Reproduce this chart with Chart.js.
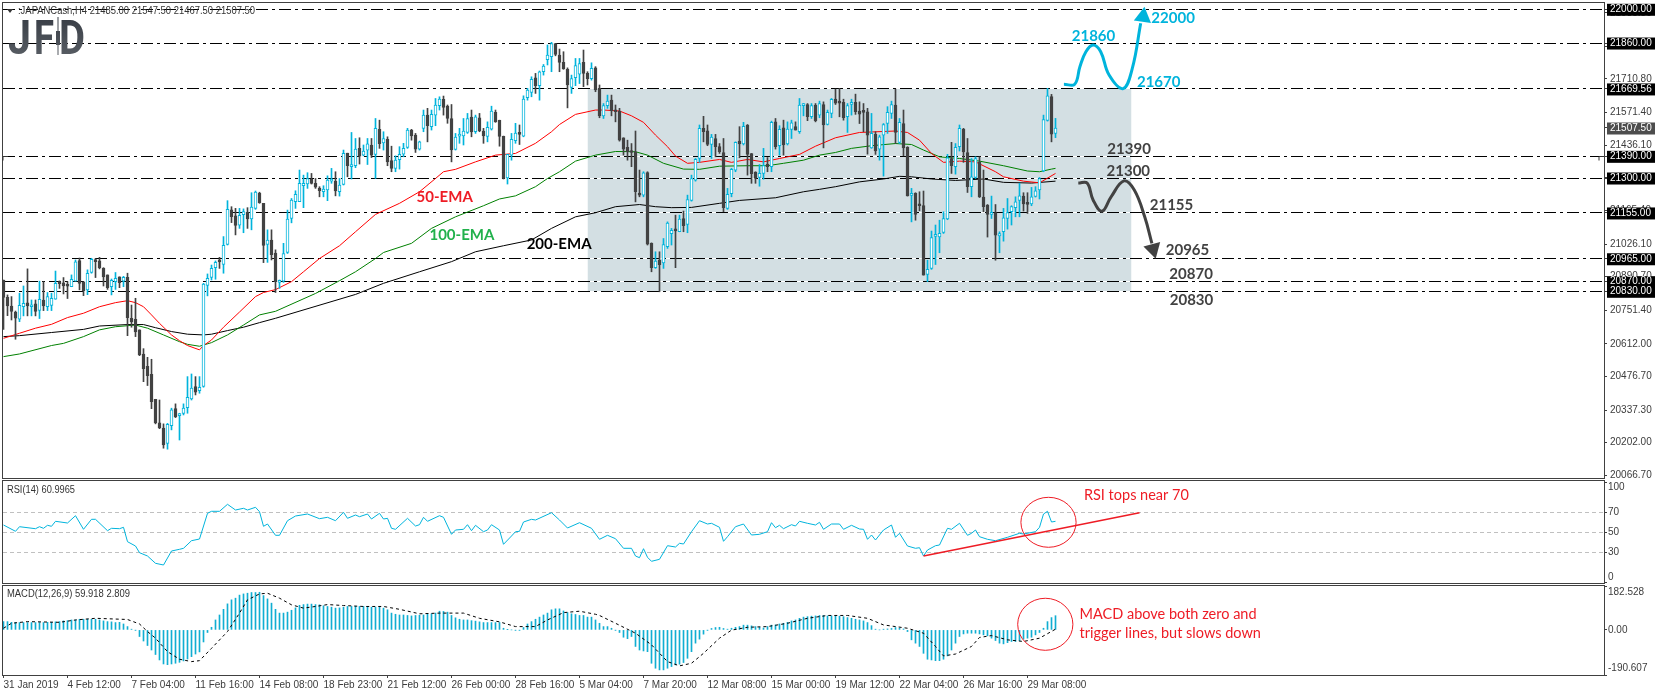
<!doctype html>
<html><head><meta charset="utf-8">
<style>html,body{margin:0;background:#fff;width:1655px;height:696px;overflow:hidden}canvas{position:absolute;left:0;display:block}</style>
<script src="https://cdn.jsdelivr.net/npm/chart.js@4"></script>
</head><body>
<canvas id="pMain" width="1655" height="480" style="top:0"></canvas>
<canvas id="pRsi" width="1655" height="104" style="top:480px"></canvas>
<canvas id="pMacd" width="1655" height="112" style="top:584px"></canvas>
<script>
const opens=[20877,20805,20769,20744,20714,20766,20782,20766,20778,20751,
20794,20766,20771,20797,20865,20865,20852,20849,20872,20957,
20869,20836,20908,20960,20956,20925,20898,20849,20870,20890,
20872,20888,20718,20714,20670,20570,20519,20486,20382,20284,
20262,20199,20273,20343,20314,20323,20347,20383,20435,20418,
20435,20854,20888,20928,20953,20941,21024,21168,21143,21104,
21148,21158,21130,21174,21237,21195,21024,21043,20989,20867,
20872,20991,21132,21202,21202,21268,21275,21296,21278,21258,
21243,21251,21287,21287,21243,21273,21403,21347,21351,21423,
21395,21415,21437,21398,21502,21446,21461,21372,21340,21376,
21399,21427,21499,21478,21420,21506,21561,21513,21561,21600,
21626,21598,21547,21419,21474,21475,21489,21553,21492,21550,
21495,21473,21503,21572,21539,21473,21300,21395,21455,21486,
21474,21633,21655,21716,21683,21741,21791,21803,21858,21810,
21780,21751,21676,21716,21731,21780,21734,21712,21757,21672,
21558,21600,21623,21579,21578,21467,21427,21412,21409,21237,
21229,21323,21029,20928,20958,20948,21015,21069,21083,21077,
21132,21107,21207,21291,21381,21506,21496,21439,21464,21430,
21406,21174,21235,21333,21453,21441,21520,21401,21325,21302,
21319,21358,21347,21533,21434,21508,21441,21502,21513,21492,
21600,21605,21554,21603,21561,21605,21522,21568,21627,21614,
21614,21554,21605,21614,21578,21573,21575,21425,21481,21420,
21478,21526,21568,21603,21448,21526,21427,21228,21236,21186,
21186,20900,20925,21058,21056,21074,21130,21381,21347,21430,
21503,21406,21264,21302,21365,21221,21188,21149,21157,21060,
21077,21132,21160,21177,21207,21225,21199,21193,21224,21251,
21329,21539,21638,21485];
const closes=[20805,20769,20746,20718,20772,20780,20769,20772,20746,20797,
20769,20808,20801,20863,20862,20852,20851,20880,20952,20863,
20833,20905,20963,20953,20927,20890,20845,20876,20884,20866,
20888,20721,20703,20661,20566,20509,20480,20372,20284,20263,
20193,20278,20338,20309,20321,20345,20390,20428,20412,20432,
20860,20884,20925,20950,20952,21021,21170,21140,21103,21145,
21161,21130,21179,21242,21198,21020,21043,20982,20870,20872,
20987,21130,21208,21232,21278,21278,21298,21278,21262,21247,
21254,21291,21291,21246,21271,21402,21351,21349,21420,21391,
21412,21442,21395,21506,21442,21464,21367,21340,21374,21398,
21423,21499,21475,21420,21450,21561,21517,21564,21603,21627,
21593,21547,21417,21470,21478,21495,21547,21491,21554,21495,
21475,21510,21578,21533,21473,21298,21398,21461,21486,21481,
21627,21665,21709,21683,21741,21764,21810,21858,21813,21780,
21753,21686,21713,21766,21775,21734,21712,21755,21665,21558,
21600,21619,21579,21575,21457,21420,21409,21406,21243,21229,
21322,21026,20928,20955,20940,21024,21113,21083,21081,21130,
21102,21211,21298,21377,21506,21492,21439,21470,21430,21409,
21177,21232,21336,21448,21441,21514,21398,21318,21298,21319,
21352,21347,21531,21430,21502,21437,21503,21529,21499,21603,
21603,21554,21600,21538,21609,21520,21572,21626,21611,21611,
21550,21600,21614,21575,21565,21572,21478,21485,21412,21471,
21522,21572,21605,21489,21531,21425,21226,21236,21149,21185,
20897,20921,21053,21066,21070,21132,21384,21351,21427,21506,
21408,21264,21305,21381,21222,21181,21149,21154,21063,21069,
21135,21157,21181,21201,21226,21193,21190,21222,21247,21298,
21542,21641,21482,21507.5];
const highs=[20877,20815,20808,20748,20822,20852,20923,20794,20794,20872,
20870,20825,20822,20914,20873,20887,20870,20898,20960,20968,
20869,20919,20967,20966,20971,20928,20898,20881,20908,20890,
20892,20905,20773,20801,20670,20592,20556,20548,20382,20379,
20280,20282,20345,20363,20324,20363,20476,20487,20476,20476,
20863,20902,20939,20956,20971,21057,21206,21181,21174,21174,
21172,21177,21239,21246,21241,21195,21085,21085,21002,20877,
21029,21167,21215,21247,21333,21312,21322,21319,21298,21264,
21268,21309,21340,21326,21298,21416,21403,21489,21464,21467,
21437,21464,21464,21547,21540,21492,21471,21432,21392,21430,
21444,21506,21502,21485,21453,21582,21589,21582,21630,21637,
21640,21603,21605,21485,21506,21547,21568,21582,21561,21568,
21506,21533,21598,21582,21540,21474,21398,21485,21527,21520,
21641,21672,21720,21734,21744,21771,21852,21863,21858,21835,
21824,21757,21727,21796,21796,21831,21741,21778,21762,21686,
21609,21644,21644,21603,21589,21467,21457,21443,21495,21333,
21326,21326,21031,20994,20994,21049,21118,21091,21146,21146,
21163,21229,21312,21381,21520,21556,21520,21481,21481,21443,
21464,21257,21340,21450,21513,21531,21522,21402,21326,21356,
21423,21385,21536,21547,21517,21540,21533,21540,21533,21630,
21609,21609,21609,21609,21619,21616,21582,21630,21669,21672,
21627,21609,21627,21648,21616,21609,21589,21568,21492,21478,
21526,21596,21619,21669,21547,21582,21430,21257,21239,21243,
21246,20959,21080,21105,21125,21160,21398,21448,21443,21520,
21506,21464,21381,21388,21388,21333,21190,21225,21190,21077,
21174,21215,21185,21222,21278,21239,21239,21261,21264,21302,
21561,21672,21647,21547.5];
const lows=[20672,20729,20711,20631,20704,20728,20728,20728,20728,20717,
20750,20750,20750,20797,20842,20819,20800,20849,20872,20836,
20812,20816,20905,20887,20923,20852,20838,20815,20838,20845,
20849,20646,20681,20642,20563,20455,20439,20343,20280,20260,
20179,20175,20255,20306,20213,20317,20324,20379,20400,20407,
20432,20811,20877,20880,20925,20905,21022,21115,21064,21091,
21073,21091,21085,21170,21195,20949,20950,20960,20825,20842,
20867,20987,21114,21174,21202,21177,21257,21275,21257,21222,
21222,21206,21278,21226,21225,21271,21305,21296,21343,21358,
21392,21356,21385,21298,21423,21416,21351,21326,21326,21337,
21388,21423,21457,21406,21416,21492,21450,21499,21517,21582,
21561,21527,21367,21416,21444,21437,21485,21471,21485,21492,
21444,21450,21499,21531,21432,21296,21275,21374,21444,21439,
21471,21623,21637,21651,21623,21727,21769,21741,21807,21741,
21751,21591,21651,21683,21692,21679,21686,21706,21658,21550,
21547,21589,21558,21533,21453,21395,21374,21347,21201,21222,
21222,21022,20911,20925,20828,20925,21008,21022,20928,21077,
21077,21073,21204,21287,21365,21450,21434,21381,21388,21402,
21160,21170,21222,21326,21384,21437,21312,21278,21278,21266,
21295,21326,21326,21420,21395,21395,21437,21464,21499,21485,
21558,21538,21547,21533,21550,21425,21520,21550,21605,21554,
21540,21489,21561,21564,21526,21492,21399,21423,21398,21374,
21308,21485,21547,21443,21443,21392,21225,21118,21125,21164,
20897,20870,20921,20941,20990,21070,21127,21319,21316,21412,
21365,21240,21222,21298,21219,21160,21055,21132,20959,20990,
21038,21088,21105,21139,21139,21163,21153,21185,21221,21213,
21326,21536,21450,21467.5];

const ema50Bars=[0,4,8,12,16,20,24,28,31,33,35,37,39,42,44,46,49,50,52,55,59,63,65,68,72,75,79,84,88,93,99,104,108,110,113,118,123,128,133,137,139,143,148,150,154,157,160,163,166,168,171,174,179,182,186,190,194,199,203,208,214,223,226,229,232,235,239,243,248,250,255,259,263];
const ema50Vals=[20635,20656,20677,20693,20721,20739,20766,20783,20791,20783,20766,20732,20697,20649,20625,20605,20587,20605,20628,20681,20744,20808,20825,20837,20870,20911,20966,21019,21077,21149,21195,21243,21298,21326,21336,21367,21395,21402,21444,21492,21522,21564,21582,21582,21578,21558,21531,21478,21430,21391,21361,21365,21377,21365,21377,21367,21381,21398,21432,21467,21489,21495,21489,21457,21402,21365,21370,21367,21326,21305,21287,21280,21319];
const ema100Bars=[0,4,12,15,20,24,28,33,36,40,44,46,49,52,56,60,64,68,78,84,88,93,95,102,107,113,120,124,128,133,136,139,143,148,153,158,161,165,170,174,179,186,191,195,200,204,208,212,217,223,227,230,234,239,244,250,256,259,262,263];
const ema100Vals=[20559,20570,20605,20614,20642,20670,20683,20690,20677,20649,20621,20610,20602,20617,20649,20690,20732,20747,20821,20874,20911,20966,20991,21029,21091,21139,21185,21213,21226,21264,21298,21326,21370,21395,21410,21409,21395,21361,21337,21336,21349,21351,21351,21361,21374,21395,21406,21423,21434,21443,21439,21416,21388,21381,21370,21351,21329,21326,21337,21340];
const ema200Bars=[0,4,12,20,24,31,35,38,42,46,50,52,56,60,64,68,88,95,104,112,118,125,132,137,143,148,153,159,163,167,172,179,184,193,200,204,208,214,220,224,227,232,238,245,250,257,263];
const ema200Vals=[20642,20646,20659,20672,20686,20692,20692,20679,20663,20652,20649,20652,20667,20681,20700,20718,20817,20863,20911,20953,20994,21019,21043,21091,21139,21156,21181,21190,21181,21177,21178,21195,21207,21218,21243,21253,21264,21284,21296,21307,21305,21296,21290,21296,21282,21279,21287];

const rsiBars=[0,3,4,8,9,10,11,12,13,16,18,20,22,23,26,27,29,30,31,33,34,36,38,40,42,44,45,47,49,51,52,54,56,58,60,61,63,64,65,66,68,69,71,73,76,79,81,83,85,86,88,89,91,92,94,95,96,97,98,101,103,104,105,106,109,110,112,113,115,116,117,118,120,121,122,124,125,127,128,129,130,132,133,137,139,141,144,147,149,151,153,155,157,158,159,160,161,162,164,166,168,169,170,172,174,176,177,179,180,181,183,185,187,189,191,192,193,194,195,197,198,199,201,203,204,205,207,209,210,212,214,215,216,217,218,220,222,223,224,226,228,229,230,231,233,234,236,237,239,241,242,243,244,246,248,251,254,255,258,259,260,261,262,263];
const rsiVals=[57.3,51,55.6,53.6,55.6,54,57,56,61,59.3,66.6,53,63,63,51.6,54,53.6,55,40.6,36.3,29.6,26.3,19,17.3,31.3,33,34,41.6,43.3,69,71,71,78,72.3,74,72.3,75,70.6,56,58.3,47,47,61.6,66.3,68.3,63.6,65,61.6,70,64,67.3,65.6,68.3,63.3,69,63.3,64,54,53,64,56.3,57.6,65,61,66.6,65,48,52.3,53,57.6,51.6,57,50.6,52.3,57.6,52.3,38,46.3,50.6,51,60.3,63,62.3,69.6,62.3,54.3,59.6,54,43,47,43.6,34,34,26.3,24.6,33.6,25,21,23,36.6,35.3,39,38.3,50.6,61.6,58.3,59,55,41,45.6,55.6,58.3,47.3,48,50.6,59.6,54.6,57,53.6,57.6,56.3,61,59,57.3,60,53,58.3,58.3,53,57,53.3,53,43,47.3,42.3,52.3,57.3,45,49,36.3,34,34.6,26.3,32.3,36.6,37.3,54,53,59,47,49,52.3,45.6,43,41.6,45,49,48.3,50.6,55,68.3,71,60.3,61];

const macdHist=[35,35,32,31,31,31,31,31,31,31,
31,32,32,34,35,38,39,42,42,45,
45,45,45,45,42,38,35,34,31,32,
25,14,3,-1,-28,-47,-66,-85,-104,-127,
-144,-147,-144,-141,-137,-131,-123,-113,-102,-93,
-51,-11,11,42,63,87,110,127,134,147,
152,155,158,158,159,145,131,113,87,71,
71,75,83,93,104,107,109,109,107,106,
102,99,96,92,93,96,99,99,100,99,
99,99,96,96,96,92,85,71,66,63,
63,61,59,61,62,63,66,68,71,79,
78,75,61,51,45,42,42,39,37,34,
31,31,31,31,31,7,1,0,-1,-1,
10,25,35,45,54,63,71,85,89,89,
80,73,68,65,61,61,54,54,42,28,
14,14,7,-1,-11,-31,-37,-28,-70,-85,
-89,-92,-141,-162,-169,-169,-162,-155,-148,-145,
-138,-120,-92,-56,-39,-18,-1,6,10,11,
6,3,7,11,14,20,20,17,14,11,
8,14,20,21,25,28,32,38,42,49,
54,56,58,59,61,61,59,59,58,58,
56,52,49,45,42,38,31,18,3,0,
3,4,6,10,7,4,-7,-42,-56,-70,
-99,-124,-127,-130,-130,-124,-110,-85,-56,-28,
-17,-14,-14,-14,-17,-21,-25,-35,-45,-56,
-59,-54,-49,-49,-45,-39,-35,-31,-21,-11,
7,35,52,60];
const signalBars=[0,2,6,14,18,23,31,34,36,38,41,44,47,49,52,56,59,61,64,66,69,72,75,78,81,85,90,95,99,104,109,115,119,124,128,133,136,140,144,148,149,153,158,162,166,169,172,175,179,182,186,191,196,201,206,211,216,220,226,230,233,235,238,242,244,247,251,255,259,263];
const signalVals=[7,28,35,32,42,49,44,25,-7,-35,-92,-124,-134,-130,-78,-7,71,127,152,155,134,106,92,99,107,103,99,99,87,68,71,71,49,34,14,14,42,73,79,66,61,28,-14,-63,-134,-152,-141,-99,-35,-1,11,14,28,49,61,61,49,21,7,-14,-70,-110,-102,-70,-32,-24,-42,-49,-35,3];

const levelPrices=[22000,21860,21669.56,21390,21300,21155,20965,20870,20830];
const lastPrice=21507.5;
const rangeBox={fromBar:146,toBar:282,top:21669.56,bottom:20830};
const priceGridTicks=[21985.5,21846.1,21710.8,21571.4,21436.1,21300.8,21165.4,21026.1,20890.7,20751.4,20612,20476.7,20337.3,20202,20066.7];
const rsiLevels=[70,50,30];
const rsiTrendBars=[230,284];
const rsiTrendVals=[26.3,69.6];
const timeTickBars=[0,16,32,48,64,80,96,112,128,144,160,176,192,208,224,240,256];
const timeTickLabels=['31 Jan 2019','4 Feb 12:00','7 Feb 04:00','11 Feb 16:00','14 Feb 08:00','18 Feb 23:00','21 Feb 12:00','26 Feb 00:00','28 Feb 16:00','5 Mar 04:00','7 Mar 20:00','12 Mar 08:00','15 Mar 00:00','19 Mar 12:00','22 Mar 04:00','26 Mar 16:00','29 Mar 08:00'];
const upPathBars=[265.1,267.8,269.1,270.6,272.4,274.3,276.4,279.9,282.2,284.3];
const upPathVals=[21689,21689,21762,21824,21852,21824,21727,21671,21755,21942];
const downPathBars=[268.7,270.9,272.4,274.6,276.9,280.1,282.7,285.3,287.1];
const downPathVals=[21279,21279,21209,21162,21222,21288,21250,21139,21029];

const CYAN='#00b4dc',DARK='#424242',AXIS='#3c3c3c';
const FONT='"Liberation Sans"';
Chart.defaults.animation=false;
Chart.defaults.font.family=FONT;

const pts=(xs,ys)=>xs.map((x,i)=>({x,y:ys[i]}));
const lineDs=(data,color,width,order,extra)=>Object.assign({type:'line',data,borderColor:color,backgroundColor:color,borderWidth:width,pointRadius:0,tension:0,order,fill:false},extra||{});

function decor(cfg){return{id:'decor'+cfg.name,
  beforeDatasetsDraw(chart){
    chart.data.datasets.forEach((d,i)=>{if(d.snap){chart.getDatasetMeta(i).data.forEach(p=>{p.y=Math.round(p.y-0.5)+0.5;});}});
  },
  afterDraw(chart){
    const c=chart.ctx,a=chart.chartArea,xs=chart.scales.x,ys=chart.scales.y;
    c.save();
    c.strokeStyle='#404040';c.lineWidth=1;
    c.strokeRect(a.left-0.5,a.top-0.5,a.right-a.left+1,a.bottom-a.top+1);
    (cfg.edge||[]).forEach(e=>{
      c.fillStyle=AXIS;c.font='10px '+FONT;c.textAlign='left';c.textBaseline='middle';
      c.fillText(e.text,a.right+4,ys.getPixelForValue(e.value)+e.dy);
    });
    (cfg.notes||[]).forEach(n=>{
      c.fillStyle=n.color;c.font=n.font;c.textAlign=n.align||'center';c.textBaseline='middle';
      c.fillText(n.text,xs.getPixelForValue(n.bar),ys.getPixelForValue(n.val));
    });
    (cfg.rings||[]).forEach(r=>{
      const cx=xs.getPixelForValue(r.bar),cy=ys.getPixelForValue(r.val);
      c.strokeStyle='#ee1c25';c.lineWidth=1;c.beginPath();
      c.ellipse(cx,cy,Math.abs(xs.getPixelForValue(r.bar+r.rb)-cx),Math.abs(ys.getPixelForValue(r.val+r.rv)-cy),0,0,Math.PI*2);c.stroke();
    });
    if(cfg.header){
      c.fillStyle='#333';c.font='10px '+FONT;c.textAlign='left';c.textBaseline='middle';
      c.fillText(cfg.header.text,cfg.header.x,cfg.header.y,cfg.header.w);
    }
    if(cfg.after)cfg.after(c,chart);
    c.restore();
  }};}

function yAxis(min,max,vals,labels,pad,extraTicks){
  return{position:'right',min,max,border:{display:false},
    grid:{drawOnChartArea:false,drawTicks:true,tickLength:3,color:'#404040',lineWidth:1},
    afterBuildTicks:s=>{s.ticks=vals.map(v=>({value:v}));},
    afterFit:s=>{s.width=51;s.paddingTop=0;s.paddingBottom=0;},
    ticks:Object.assign({autoSkip:false,padding:pad,color:AXIS,font:{size:10,lineHeight:1.1},callback:(v,i)=>labels[i]},extraTicks||{})};
}
const hiddenX=(min,max)=>({type:'linear',min,max,display:false,offset:false,grid:{offset:false}});

/* main pane */
const tickVals=priceGridTicks.concat([lastPrice],levelPrices);
const tickLabels=tickVals.map(v=>v.toFixed(2));
const isTag=v=>levelPrices.includes(v)||v===lastPrice;
const X0=-0.125,X1=400.125;
const barsData=opens.map((o,i)=>({x:i,y:[lows[i],highs[i]]}));
const bodyData=opens.map((o,i)=>({x:i,y:[Math.min(o,closes[i]),Math.max(o,closes[i])]}));
const up=i=>closes[i]>=opens[i];
const mainDs=[
  lineDs(pts([rangeBox.fromBar,rangeBox.toBar],[rangeBox.top,rangeBox.top]),'rgba(0,0,0,0)',0,100,{fill:{value:rangeBox.bottom},backgroundColor:'#d3dfe3'}),
  ...levelPrices.map(v=>lineDs(pts([X0,X1],[v,v]),'#ffffff',1,90,{snap:true})),
  ...levelPrices.map(v=>lineDs(pts([X0,X1],[v,v]),'#000000',1,80,{snap:true,borderDash:[12,4,3,4]})),
  lineDs(pts(ema200Bars,ema200Vals),'#000000',1,52),
  lineDs(pts(ema100Bars,ema100Vals),'#008000',1,51),
  lineDs(pts(ema50Bars,ema50Vals),'#ff0000',1,50),
  {type:'bar',data:barsData,grouped:false,barThickness:1,order:40,backgroundColor:c=>up(c.dataIndex)?CYAN:DARK,borderWidth:0},
  {type:'bar',data:bodyData,grouped:false,barThickness:3,order:30,minBarLength:2,borderSkipped:false,borderWidth:1,
    backgroundColor:c=>up(c.dataIndex)?'#ffffff':DARK,borderColor:c=>up(c.dataIndex)?CYAN:DARK},
  lineDs(pts(upPathBars,upPathVals),CYAN,3,10,{tension:0.4}),
  lineDs(pts(downPathBars,downPathVals),DARK,3,10,{tension:0.4}),
  lineDs([{x:284.9,y:21969}],CYAN,0,9,{pointStyle:'triangle',pointRadius:10,pointRotation:8,showLine:false}),
  lineDs([{x:287.4,y:21005}],DARK,0,9,{pointStyle:'triangle',pointRadius:10,pointRotation:165,showLine:false}),
];
const B15='bold 15px Lato';
function logo(c,chart){
  const g=c.createLinearGradient(0,19,0,54);g.addColorStop(0,'#3a3f47');g.addColorStop(1,'#565b62');
  c.fillStyle=g;c.font='bold 49px Roboto';c.textBaseline='alphabetic';c.textAlign='left';
  c.fillText('J',8,54,23);c.fillText('F',34,54,20);c.fillText('D',59,54,26);
  c.fillRect(57.5,17,1,38);c.fillRect(56,31,4,14);
  const y=Math.round(chart.scales.y.getPixelForValue(21390))+0.5;
  c.strokeStyle='#333';c.lineWidth=1;c.beginPath();c.moveTo(3,y+4);c.lineTo(3,y);c.lineTo(8,y);c.stroke();
  c.beginPath();c.moveTo(1599,y+4);c.lineTo(1599,y);c.lineTo(1604,y);c.stroke();
  c.fillStyle='#333';c.beginPath();c.moveTo(7,9);c.lineTo(13,9);c.lineTo(10,13);c.closePath();c.fill();
}
const noAuto=(p)=>({autoPadding:false,padding:p});
new Chart(document.getElementById('pMain'),{type:'line',
  data:{datasets:mainDs},
  options:{responsive:false,devicePixelRatio:1,animation:false,layout:noAuto({left:3,top:3,right:0,bottom:2}),
    plugins:{legend:{display:false},tooltip:{enabled:false},title:{display:false}},
    scales:{x:hiddenX(X0,X1),
      y:yAxis(20055.4,22026.1,tickVals,tickLabels,3,{
        color:c=>isTag(c.tick.value)?'#ffffff':AXIS,
        showLabelBackdrop:c=>isTag(c.tick.value),
        backdropColor:c=>c.tick.value===lastPrice?'#4d4d4d':'#000000',
        backdropPadding:{left:3,right:6,top:0,bottom:1}})}},
  plugins:[decor({name:'main',after:logo,
    header:{text:':JAPANCash,H4 21485.00 21547.50 21467.50 21507.50',x:18,y:11,w:237},
    notes:[
      {text:'22000',bar:292.4,val:21964,color:CYAN,font:B15},
      {text:'21860',bar:272.5,val:21889,color:CYAN,font:B15},
      {text:'21670',bar:288.8,val:21698,color:CYAN,font:B15},
      {text:'21390',bar:281.4,val:21420,color:DARK,font:B15},
      {text:'21300',bar:281.2,val:21329,color:DARK,font:B15},
      {text:'21155',bar:292,val:21188,color:DARK,font:B15},
      {text:'20965',bar:296,val:21001,color:DARK,font:B15},
      {text:'20870',bar:296.9,val:20902,color:DARK,font:B15},
      {text:'20830',bar:297,val:20794,color:DARK,font:B15},
      {text:'50-EMA',bar:110.3,val:21221,color:'#ee1c25',font:B15},
      {text:'100-EMA',bar:114.6,val:21064,color:'#22b14c',font:B15},
      {text:'200-EMA',bar:138.9,val:21026,color:'#000000',font:B15},
    ]})]});

/* RSI pane */
new Chart(document.getElementById('pRsi'),{type:'line',
  data:{datasets:[
    ...rsiLevels.map(v=>lineDs(pts([X0,X1],[v,v]),'#c0c0c0',1,60,{snap:true,borderDash:[4,3]})),
    lineDs(pts(rsiBars,rsiVals),CYAN,1,20),
    lineDs(pts(rsiTrendBars,rsiTrendVals),'#ee1c25',1.5,10),
  ]},
  options:{responsive:false,devicePixelRatio:1,animation:false,layout:noAuto({left:3,top:1,right:0,bottom:1}),
    plugins:{legend:{display:false},tooltip:{enabled:false}},
    scales:{x:hiddenX(X0,X1),y:yAxis(-0.7,101.3,[100,70,50,30,0],['','70','50','30',''],1)}},
  plugins:[decor({name:'rsi',
    edge:[{value:100,text:'100',dy:5},{value:0,text:'0',dy:-5.5}],
    header:{text:'RSI(14) 60.9965',x:7,y:10,w:68},
    notes:[{text:'RSI tops near 70',bar:270.1,val:87.3,color:'#ee1c25',font:'14.5px Lato',align:'left'}],
    rings:[{bar:261.25,val:60,rb:6.9,rv:25}]})]});

/* MACD pane */
new Chart(document.getElementById('pMacd'),{type:'line',
  data:{datasets:[
    {type:'bar',data:macdHist.map((v,i)=>({x:i,y:v})),grouped:false,barThickness:1,order:30,backgroundColor:'#11aed2',borderWidth:0},
    lineDs(pts(signalBars,signalVals),'#000000',1,20,{borderDash:[3,3]}),
  ]},
  options:{responsive:false,devicePixelRatio:1,animation:false,layout:noAuto({left:3,top:2,right:0,bottom:0}),
    plugins:{legend:{display:false},tooltip:{enabled:false}},
    scales:{
      x:{type:'linear',min:X0,max:X1,offset:false,position:'bottom',border:{display:false},
        grid:{drawOnChartArea:false,drawTicks:true,tickLength:3,color:'#404040',offset:false},
        afterBuildTicks:s=>{s.ticks=timeTickBars.map(v=>({value:v}));},
        afterFit:s=>{s.height=21;s.paddingLeft=0;s.paddingRight=0;},
        ticks:{autoSkip:false,maxRotation:0,minRotation:0,align:'start',padding:2,color:AXIS,font:{size:10,lineHeight:1.1},callback:(v,i)=>timeTickLabels[i]}},
      y:yAxis(-190.607,185.5,[182.528,0,-190.607],['','0.00',''],1)}},
  plugins:[decor({name:'macd',
    edge:[{value:182.528,text:'182.528',dy:6},{value:-190.607,text:'-190.607',dy:-6.5}],
    header:{text:'MACD(12,26,9) 59.918 2.809',x:7,y:10,w:123},
    notes:[
      {text:'MACD above both zero and',bar:269,val:67,color:'#ee1c25',font:'14.5px Lato',align:'left'},
      {text:'trigger lines, but slows down',bar:269,val:-13,color:'#ee1c25',font:'14.5px Lato',align:'left'}],
    rings:[{bar:260.45,val:23.7,rb:6.9,rv:110}]})]});
</script>
</body></html>
